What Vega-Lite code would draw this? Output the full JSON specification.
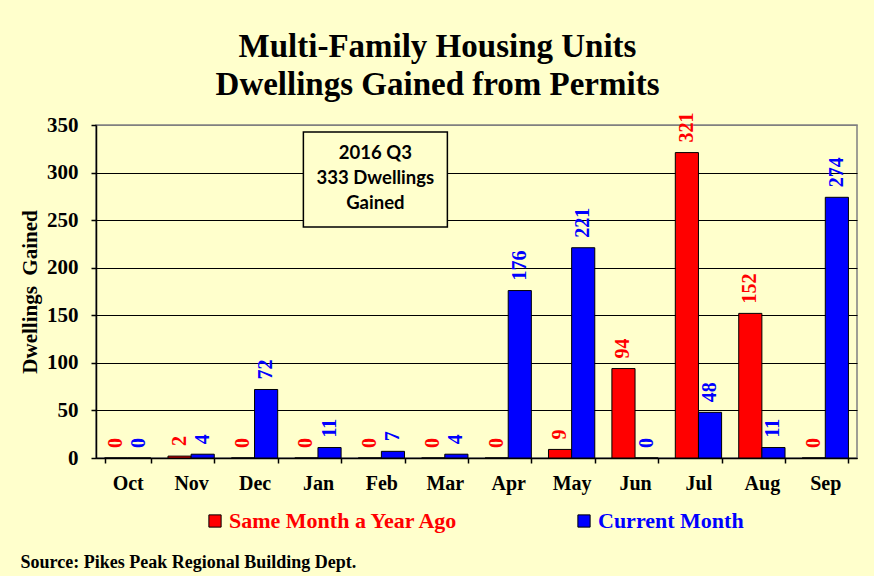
{
  "$schema": "https://vega.github.io/schema/vega-lite/v6.json",
  "width": 761,
  "height": 333,
  "autosize": {"type": "none"},
  "padding": {"left": 96, "top": 125, "right": 17, "bottom": 118},
  "background": "#FFFFCC",
  "config": {"view": {"stroke": "#808080", "strokeWidth": 1.5}},
  "title": {
    "text": ["Multi-Family Housing Units", "Dwellings Gained from Permits"],
    "font": "Liberation Serif",
    "fontSize": 33,
    "fontWeight": "bold",
    "color": "black",
    "lineHeight": 38,
    "anchor": "middle",
    "dx": -39,
    "offset": 11
  },
  "data": {
    "values": [
      {"month": "Oct", "series": "Same Month a Year Ago", "value": 0},
      {"month": "Oct", "series": "Current Month", "value": 0},
      {"month": "Nov", "series": "Same Month a Year Ago", "value": 2},
      {"month": "Nov", "series": "Current Month", "value": 4},
      {"month": "Dec", "series": "Same Month a Year Ago", "value": 0},
      {"month": "Dec", "series": "Current Month", "value": 72},
      {"month": "Jan", "series": "Same Month a Year Ago", "value": 0},
      {"month": "Jan", "series": "Current Month", "value": 11},
      {"month": "Feb", "series": "Same Month a Year Ago", "value": 0},
      {"month": "Feb", "series": "Current Month", "value": 7},
      {"month": "Mar", "series": "Same Month a Year Ago", "value": 0},
      {"month": "Mar", "series": "Current Month", "value": 4},
      {"month": "Apr", "series": "Same Month a Year Ago", "value": 0},
      {"month": "Apr", "series": "Current Month", "value": 176},
      {"month": "May", "series": "Same Month a Year Ago", "value": 9},
      {"month": "May", "series": "Current Month", "value": 221},
      {"month": "Jun", "series": "Same Month a Year Ago", "value": 94},
      {"month": "Jun", "series": "Current Month", "value": 0},
      {"month": "Jul", "series": "Same Month a Year Ago", "value": 321},
      {"month": "Jul", "series": "Current Month", "value": 48},
      {"month": "Aug", "series": "Same Month a Year Ago", "value": 152},
      {"month": "Aug", "series": "Current Month", "value": 11},
      {"month": "Sep", "series": "Same Month a Year Ago", "value": 0},
      {"month": "Sep", "series": "Current Month", "value": 274}
    ]
  },
  "layer": [
    {
      "mark": {"type": "bar", "stroke": "black", "strokeWidth": 1},
      "encoding": {
        "x": {
          "field": "month", "type": "nominal",
          "sort": ["Oct","Nov","Dec","Jan","Feb","Mar","Apr","May","Jun","Jul","Aug","Sep"],
          "scale": {"paddingInner": 0.27, "paddingOuter": 0.135},
          "axis": {
            "title": "Source: Pikes Peak Regional Building Dept.",
            "titleX": -76, "titleY": 104,
            "titleAlign": "left", "titleBaseline": "middle", "titleAnchor": null,
            "titleFont": "Liberation Serif", "titleFontSize": 18, "titleFontWeight": "bold", "titleColor": "black",
            "labelAngle": 0, "labelFont": "Liberation Serif", "labelFontSize": 20, "labelFontWeight": "bold",
            "labelColor": "black", "labelPadding": 10,
            "tickBand": "extent", "tickSize": 5, "tickColor": "black", "tickWidth": 1.5,
            "domainColor": "black", "domainWidth": 1.5, "grid": false
          }
        },
        "xOffset": {
          "field": "series", "type": "nominal",
          "sort": ["Same Month a Year Ago", "Current Month"],
          "scale": {"paddingInner": 0, "paddingOuter": 0}
        },
        "y": {
          "field": "value", "type": "quantitative",
          "scale": {"domain": [0, 350], "nice": false},
          "axis": {
            "title": "Dwellings\u00a0\u00a0Gained",
            "values": [0, 50, 100, 150, 200, 250, 300, 350],
            "grid": true,
            "gridColor": {"condition": {"test": "datum.value == 350", "value": "#808080"}, "value": "black"},
            "gridWidth": 1.2,
            "tickSize": 5, "tickColor": "black", "tickWidth": 1.5,
            "domainColor": "black", "domainWidth": 1.5,
            "labelFont": "Liberation Serif", "labelFontSize": 21, "labelFontWeight": "bold",
            "labelColor": "black", "labelPadding": 13,
            "titleFont": "Liberation Serif", "titleFontSize": 21, "titleFontWeight": "bold",
            "titleColor": "black", "titlePadding": 6
          }
        },
        "color": {
          "field": "series", "type": "nominal",
          "scale": {"domain": ["Same Month a Year Ago", "Current Month"], "range": ["#FF0000", "#0000FF"]},
          "legend": {
            "orient": "none", "legendX": 108, "legendY": 385,
            "direction": "horizontal", "title": null,
            "symbolType": "square", "symbolSize": 150,
            "symbolStrokeColor": "black", "symbolStrokeWidth": 1,
            "labelFont": "Liberation Serif", "labelFontSize": 22, "labelFontWeight": "bold",
            "labelOffset": 3, "columnPadding": 114, "labelLimit": 400,
            "encode": {
              "labels": {"update": {"fill": {"signal": "datum.value === 'Current Month' ? '#0000FF' : '#FF0000'"}}}
            }
          }
        }
      }
    },
    {
      "mark": {
        "type": "text", "angle": 270, "align": "left", "baseline": "middle", "dx": 10,
        "font": "Liberation Serif", "fontSize": 20, "fontWeight": "bold"
      },
      "encoding": {
        "x": {"field": "month", "type": "nominal", "sort": ["Oct","Nov","Dec","Jan","Feb","Mar","Apr","May","Jun","Jul","Aug","Sep"]},
        "xOffset": {"field": "series", "type": "nominal", "sort": ["Same Month a Year Ago", "Current Month"]},
        "y": {"field": "value", "type": "quantitative"},
        "text": {"field": "value", "type": "quantitative"},
        "color": {"condition": {"test": "datum.series === 'Current Month'", "value": "#0000FF"}, "value": "#FF0000"}
      }
    },
    {
      "data": {"values": [{"label": "2016 Q3\n333 Dwellings\nGained"}]},
      "mark": {"type": "bar", "fill": "#FFFFCC", "stroke": "black", "strokeWidth": 1.5, "width": 144, "xOffset": -6},
      "encoding": {
        "x": {"datum": "Feb", "type": "nominal"},
        "y": {"datum": 342.6, "type": "quantitative"},
        "y2": {"datum": 242.8}
      }
    },
    {
      "data": {"values": [{"label": "2016 Q3\n333 Dwellings\nGained"}]},
      "mark": {
        "type": "text", "font": "Lato", "fontSize": 18.5, "fontWeight": "bold", "color": "black",
        "lineBreak": "\n", "lineHeight": 25, "align": "center", "baseline": "middle", "dx": -6
      },
      "encoding": {
        "x": {"datum": "Feb", "type": "nominal"},
        "y": {"datum": 320.6, "type": "quantitative"},
        "text": {"field": "label"}
      }
    }
  ]
}
